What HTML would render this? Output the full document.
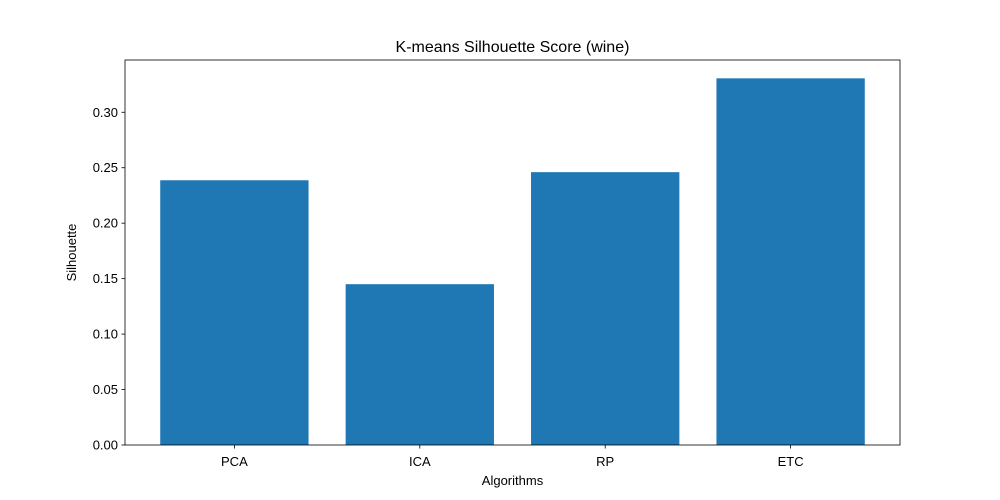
<!DOCTYPE html>
<html><head><meta charset="utf-8"><style>
html,body{margin:0;padding:0;background:#fff;}
svg{display:block;font-family:"Liberation Sans","DejaVu Sans",sans-serif;}
</style></head><body>
<svg id="chart" width="1000" height="500" xmlns="http://www.w3.org/2000/svg"></svg>
<script>
const categories = ["PCA","ICA","RP","ETC"];
const values = [0.2387,0.145,0.246,0.3306];
const yTicks = [0,0.05,0.10,0.15,0.20,0.25,0.30];
const yTickLabels = ["0.00","0.05","0.10","0.15","0.20","0.25","0.30"];

const L=125,R=900,T=60,B=445;
const ymax = Math.max(...values)*1.05;
const xmin=-0.59, xmax=categories.length-1+0.59;
const sx = v => L + (v-xmin)/(xmax-xmin)*(R-L);
const sy = v => B - v/ymax*(B-T);
const svg=document.getElementById('chart');
const NS="http://www.w3.org/2000/svg";
function mk(tag,attrs,text){const e=document.createElementNS(NS,tag);for(const k in attrs)e.setAttribute(k,attrs[k]);if(text!==undefined)e.textContent=text;svg.appendChild(e);return e;}

categories.forEach((c,i)=>{
  const b=mk('rect',{x:sx(i-0.4),y:sy(values[i]),width:sx(i+0.4)-sx(i-0.4),height:sy(0)-sy(values[i]),fill:'#1f77b4'});
  
  
  const t=mk('line',{x1:sx(i),x2:sx(i),y1:B,y2:B+3.5,stroke:'#000','stroke-width':0.8});
  
  
  const l=mk('text',{x:sx(i),y:B+21,'text-anchor':'middle','font-size':13},c);
  
  
});
yTicks.forEach((v,i)=>{
  const t=mk('line',{x1:L-3.5,x2:L,y1:sy(v),y2:sy(v),stroke:'#000','stroke-width':0.8});
  
  
  const l=mk('text',{x:L-7,y:sy(v)+4.5,'text-anchor':'end','font-size':13},yTickLabels[i]);
  
  
});
const frame=mk('rect',{x:L,y:T,width:R-L,height:B-T,fill:'none',stroke:'#000','stroke-width':0.8});


const title=mk('text',{x:(L+R)/2,y:T-8,'text-anchor':'middle','font-size':16},'K-means Silhouette Score (wine)');


const xt=mk('text',{x:(L+R)/2,y:485,'text-anchor':'middle','font-size':13},'Algorithms');


const yt=mk('text',{x:76,y:(T+B)/2,'text-anchor':'middle','font-size':13,transform:'rotate(-90 76 '+((T+B)/2)+')'},'Silhouette');


</script>
</body></html>
